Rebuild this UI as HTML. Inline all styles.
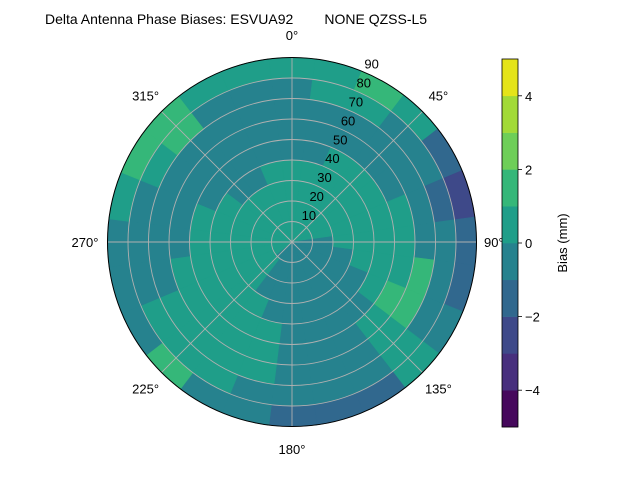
<!DOCTYPE html>
<html><head><meta charset="utf-8"><style>
body{margin:0;background:#fff;}
svg{display:block;font-family:"Liberation Sans","DejaVu Sans",sans-serif;}
</style></head><body>
<svg id="chart" width="640" height="480" viewBox="0 0 640 480">
<rect width="640" height="480" fill="#fff"/>
<text x="45" y="24" font-size="14" fill="#000" xml:space="preserve">Delta Antenna Phase Biases: ESVUA92        NONE QZSS-L5</text>
<g id="cells"></g>
<g id="grid"></g>
<g id="labels"></g>
<g id="cbar"></g>
</svg>
<script>
const azimuths=[0,15,30,45,60,75,90,105,120,135,150,165,180,195,210,225,240,255,270,285,300,315,330,345];
const ringEdges=[0,10,20,30,40,50,60,70,80,90];
const biasValues=[
[0.5,0.5,0.5,0.5,-0.5,-0.5,-0.5,-0.5,0.5],
[0.5,0.5,0.5,0.5,-0.5,-0.5,-0.5,0.5,0.5],
[0.5,0.5,0.5,0.5,0.5,-0.5,-0.5,0.5,1.5],
[0.5,0.5,0.5,0.5,0.5,-0.5,-0.5,-0.5,0.5],
[0.5,0.5,0.5,0.5,0.5,-0.5,-0.5,-0.5,-1.5],
[0.5,0.5,0.5,0.5,0.5,0.5,-0.5,-1.5,-2.5],
[-0.5,-0.5,0.5,0.5,0.5,0.5,-0.5,-0.5,-1.5],
[-0.5,-0.5,-0.5,0.5,0.5,0.5,1.5,-0.5,-1.5],
[-0.5,-0.5,-0.5,-0.5,0.5,1.5,1.5,-0.5,-0.5],
[-0.5,-0.5,-0.5,-0.5,-0.5,0.5,0.5,0.5,0.5],
[-0.5,-0.5,-0.5,-0.5,-0.5,-0.5,-0.5,-0.5,-1.5],
[-0.5,-0.5,-0.5,-0.5,-0.5,-0.5,-0.5,-0.5,-1.5],
[-0.5,-0.5,-0.5,-0.5,-0.5,-0.5,-0.5,-0.5,-1.5],
[-0.5,-0.5,-0.5,-0.5,0.5,0.5,0.5,-0.5,-0.5],
[-0.5,-0.5,-0.5,0.5,0.5,0.5,0.5,0.5,-0.5],
[-0.5,0.5,0.5,0.5,0.5,0.5,0.5,0.5,1.5],
[0.5,0.5,0.5,0.5,0.5,0.5,0.5,0.5,-0.5],
[0.5,0.5,0.5,0.5,0.5,0.5,-0.5,-0.5,-0.5],
[0.5,0.5,0.5,0.5,0.5,-0.5,-0.5,-0.5,-0.5],
[0.5,0.5,0.5,0.5,0.5,-0.5,-0.5,-0.5,0.5],
[0.5,0.5,0.5,0.5,-0.5,-0.5,-0.5,0.5,1.5],
[0.5,0.5,0.5,-0.5,-0.5,-0.5,-0.5,1.5,1.5],
[0.5,0.5,0.5,-0.5,-0.5,-0.5,-0.5,-0.5,0.5],
[0.5,0.5,0.5,0.5,-0.5,-0.5,-0.5,-0.5,0.5]
];
const radialTicks=[10,20,30,40,50,60,70,80,90];
const angleTicks=[0,45,90,135,180,225,270,315];
const cbarTicks=[-4,-2,0,2,4];
const levels=[-5,-4,-3,-2,-1,0,1,2,3,4,5];
const bandColors=["#46085c","#472f7d","#3e4989","#31688e","#26828e","#1f9e89","#35b779","#6ece58","#a2da37","#e5e419"];

const NS="http://www.w3.org/2000/svg";
const cx=292,cy=242,R=184.5,rMax=90;
function rs(r){return r/rMax*R;}
function pt(az,r){const a=az*Math.PI/180;return [cx+rs(r)*Math.sin(a),cy-rs(r)*Math.cos(a)];}
function colorOf(v){let i=Math.floor(v-levels[0]);i=Math.max(0,Math.min(bandColors.length-1,i));return bandColors[i];}
function mk(tag,attrs,parent){const e=document.createElementNS(NS,tag);for(const k in attrs)e.setAttribute(k,attrs[k]);parent.appendChild(e);return e;}

const cells=document.getElementById('cells');
const half=(360/azimuths.length)/2;
azimuths.forEach((az,i)=>{
  biasValues[i].forEach((v,j)=>{
    const r0=ringEdges[j],r1=ringEdges[j+1];
    const a0=az-half-0.3,a1=az+half+0.3;
    const p1=pt(a0,r1),p2=pt(a1,r1),p3=pt(a1,r0),p4=pt(a0,r0);
    const d=`M${p1[0]},${p1[1]} A${rs(r1)},${rs(r1)} 0 0 1 ${p2[0]},${p2[1]} L${p3[0]},${p3[1]} A${rs(r0)},${rs(r0)} 0 0 0 ${p4[0]},${p4[1]} Z`;
    const c=mk('path',{d:d,fill:colorOf(v),stroke:colorOf(v),'stroke-width':0.6},cells);
    
    
  });
});

const grid=document.getElementById('grid');
radialTicks.forEach(r=>{
  if(r<rMax){
    const c=mk('circle',{cx:cx,cy:cy,r:rs(r),fill:'none',stroke:'#b0b0b0','stroke-width':0.9},grid);
    
    
  }
});
angleTicks.forEach(a=>{
  const p=pt(a,rMax);
  const l=mk('line',{x1:cx,y1:cy,x2:p[0],y2:p[1],stroke:'#b0b0b0','stroke-width':0.9},grid);
  
  
});
const border=mk('circle',{cx:cx,cy:cy,r:R,fill:'none',stroke:'#000','stroke-width':1},grid);



const labels=document.getElementById('labels');
angleTicks.forEach(a=>{
  const p=pt(a,rMax+11);
  let anchor='middle';
  if(a===90)anchor='start';
  const px=a===90?p[0]-15:p[0];
  const t=mk('text',{x:px,y:p[1]+5,'text-anchor':anchor,'font-size':13,fill:'#000'},labels);
  t.textContent=a+'°';
  
  
});
radialTicks.forEach(r=>{
  const p=pt(22.5,r);
  const t=mk('text',{x:p[0]+9,y:p[1]-3,'text-anchor':'middle','font-size':13,fill:'#000'},labels);
  t.textContent=r;
  
  
});

const cb=document.getElementById('cbar');
const cbx=502,cbw=16,cbTop=59,cbBot=427;
function cy2(v){return cbBot-(v-levels[0])/(levels[levels.length-1]-levels[0])*(cbBot-cbTop);}
bandColors.forEach((col,i)=>{
  const y0=cy2(levels[i+1]),y1=cy2(levels[i]);
  const r=mk('rect',{x:cbx,y:y0,width:cbw,height:y1-y0+0.3,fill:col},cb);
  
  
});
const cbo=mk('rect',{x:cbx,y:cbTop,width:cbw,height:cbBot-cbTop,fill:'none',stroke:'#000','stroke-width':0.8},cb);


cbarTicks.forEach(v=>{
  const y=cy2(v);
  const l=mk('line',{x1:cbx+cbw,y1:y,x2:cbx+cbw+4,y2:y,stroke:'#000','stroke-width':0.8},cb);
  
  
  const t=mk('text',{x:cbx+cbw+7,y:y+5,'font-size':13,fill:'#000'},cb);
  t.textContent=v<0?'−'+Math.abs(v):String(v);
  
  
});
const ttl=mk('text',{x:0,y:0,'font-size':13,fill:'#000','text-anchor':'middle',transform:'translate(567,243) rotate(-90)'},cb);
ttl.textContent='Bias (mm)';


</script>
</body></html>
